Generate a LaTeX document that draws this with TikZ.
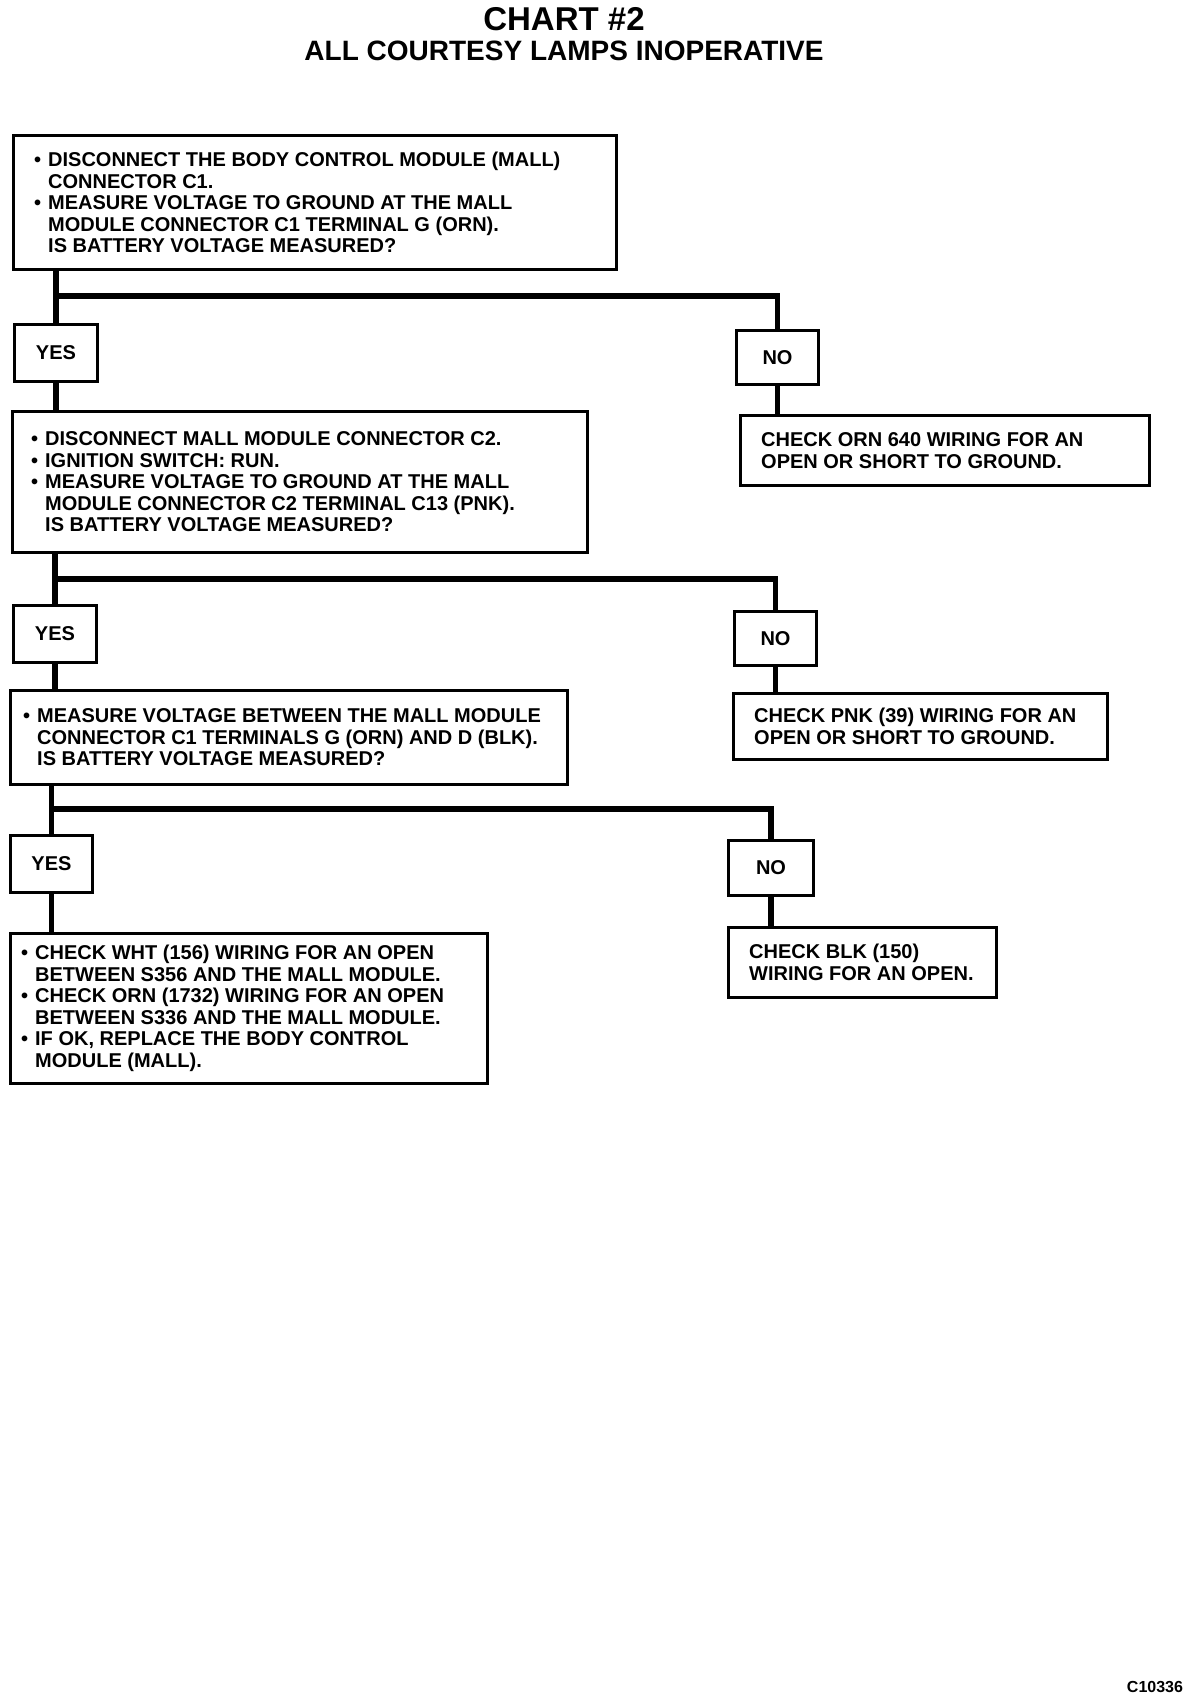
\documentclass[tikz,border=0pt]{standalone}
\usepackage{fontspec}
\setmainfont{Liberation Sans}
\newcommand\bl{\makebox[14pt][l]{\textbullet}}
\newcommand\ind{\hspace*{14pt}}
\begin{document}
\begin{tikzpicture}[x=1pt,y=-1pt,
 box/.style={draw, line width=3pt, rectangle, anchor=north west, inner sep=0pt},
 txt/.style={anchor=west, align=left, inner sep=0pt, font=\fontsize{20}{21.5}\selectfont\bfseries},
 lbl/.style={draw, line width=3pt, rectangle, anchor=north west, inner sep=0pt, font=\fontsize{20}{21.5}\selectfont\bfseries},
 conn/.style={line width=5.5pt}]
\useasboundingbox[fill=white] (0,0) rectangle (1200,1704);

% titles
\node[font=\fontsize{33}{33}\selectfont\bfseries] (title) at (564,19) {CHART \#2};
\node[font=\fontsize{28}{28}\selectfont\bfseries] (subtitle) at (564,51) {ALL COURTESY LAMPS INOPERATIVE};
\node[font=\fontsize{16}{16}\selectfont\bfseries] (code) at (1155,1687) {C10336};

% question boxes
\node[box, minimum width=603pt, minimum height=134pt] (q1) at (12,134) {};
\node[txt] (q1t) at ([xshift=22pt]q1.west) {\bl DISCONNECT THE BODY CONTROL MODULE (MALL)\\ \ind CONNECTOR C1.\\ \bl MEASURE VOLTAGE TO GROUND AT THE MALL\\ \ind MODULE CONNECTOR C1 TERMINAL G (ORN).\\ \ind IS BATTERY VOLTAGE MEASURED?};

\node[box, minimum width=575pt, minimum height=141pt] (q2) at (11,410) {};
\node[txt] (q2t) at ([xshift=20pt]q2.west) {\bl DISCONNECT MALL MODULE CONNECTOR C2.\\ \bl IGNITION SWITCH: RUN.\\ \bl MEASURE VOLTAGE TO GROUND AT THE MALL\\ \ind MODULE CONNECTOR C2 TERMINAL C13 (PNK).\\ \ind IS BATTERY VOLTAGE MEASURED?};

\node[box, minimum width=557pt, minimum height=94pt] (q3) at (9,689) {};
\node[txt] (q3t) at ([xshift=14pt]q3.west) {\bl MEASURE VOLTAGE BETWEEN THE MALL MODULE\\ \ind CONNECTOR C1 TERMINALS G (ORN) AND D (BLK).\\ \ind IS BATTERY VOLTAGE MEASURED?};

\node[box, minimum width=477pt, minimum height=150pt] (q4) at (9,932) {};
\node[txt] (q4t) at ([xshift=12pt]q4.west) {\bl CHECK WHT (156) WIRING FOR AN OPEN\\ \ind BETWEEN S356 AND THE MALL MODULE.\\ \bl CHECK ORN (1732) WIRING FOR AN OPEN\\ \ind BETWEEN S336 AND THE MALL MODULE.\\ \bl IF OK, REPLACE THE BODY CONTROL\\ \ind MODULE (MALL).};

% result boxes
\node[box, minimum width=409pt, minimum height=70pt] (r1) at (739,414) {};
\node[txt] (r1t) at ([xshift=22pt]r1.west) {CHECK ORN 640 WIRING FOR AN\\ OPEN OR SHORT TO GROUND.};

\node[box, minimum width=374pt, minimum height=66pt] (r2) at (732,692) {};
\node[txt] (r2t) at ([xshift=22pt]r2.west) {CHECK PNK (39) WIRING FOR AN\\ OPEN OR SHORT TO GROUND.};

\node[box, minimum width=268pt, minimum height=70pt] (r3) at (727,926) {};
\node[txt] (r3t) at ([xshift=22pt]r3.west) {CHECK BLK (150)\\ WIRING FOR AN OPEN.};

% YES / NO labels
\node[lbl, minimum width=83pt, minimum height=57pt] (yes1) at (13,323) {YES};
\node[lbl, minimum width=82pt, minimum height=54pt] (no1) at (735,329) {NO};
\node[lbl, minimum width=83pt, minimum height=57pt] (yes2) at (12,604) {YES};
\node[lbl, minimum width=82pt, minimum height=54pt] (no2) at (733,610) {NO};
\node[lbl, minimum width=82pt, minimum height=57pt] (yes3) at (9,834) {YES};
\node[lbl, minimum width=85pt, minimum height=55pt] (no3) at (727,839) {NO};

% bus coordinates
\coordinate (b1) at (0,296);
\coordinate (b2) at (0,579);
\coordinate (b3) at (0,809);

% connectors
\draw[conn] (yes1.north |- q1.south) -- (yes1.north);
\draw[conn] (yes1.north |- b1) -| (no1.north);
\draw[conn] (yes1.south) -- (yes1.south |- q2.north);
\draw[conn] (no1.south) -- (no1.south |- r1.north);

\draw[conn] (yes2.north |- q2.south) -- (yes2.north);
\draw[conn] (yes2.north |- b2) -| (no2.north);
\draw[conn] (yes2.south) -- (yes2.south |- q3.north);
\draw[conn] (no2.south) -- (no2.south |- r2.north);

\draw[conn] (yes3.north |- q3.south) -- (yes3.north);
\draw[conn] (yes3.north |- b3) -| (no3.north);
\draw[conn] (yes3.south) -- (yes3.south |- q4.north);
\draw[conn] (no3.south) -- (no3.south |- r3.north);
\end{tikzpicture}
\end{document}
